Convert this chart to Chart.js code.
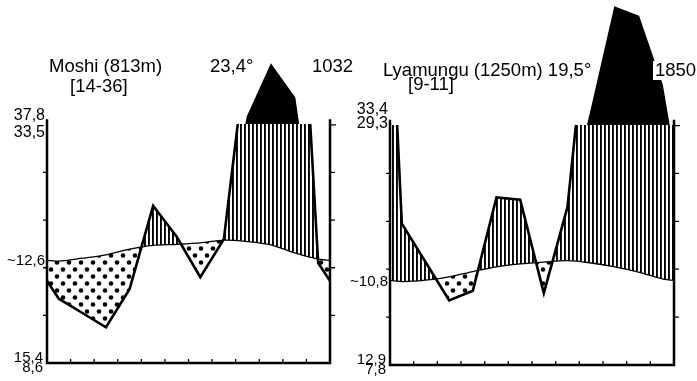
<!DOCTYPE html>
<html>
<head>
<meta charset="utf-8">
<script src="https://cdn.jsdelivr.net/npm/chart.js@4"></script>
<style>
  html, body { margin: 0; padding: 0; background: #fff; }
  #wrap { position: relative; width: 697px; height: 381px; overflow: hidden; }
  #wrap canvas { position: absolute; left: 0; top: 0; }
</style>
</head>
<body>
<div id="wrap">
  <canvas id="moshi" width="697" height="381"></canvas>
  <canvas id="lyamungu" width="697" height="381"></canvas>
</div>
<script>
// year runs July -> June
const months = ["Jul", "Aug", "Sep", "Oct", "Nov", "Dec", "Jan", "Feb", "Mar", "Apr", "May", "Jun"];

// Moshi: monthly mean temperature (°C) and rainfall (mm)
const moshiTemp = [21.4, 22.0, 22.7, 23.9, 24.7, 24.9, 25.2, 25.8, 25.5, 24.8, 23.1, 21.8];
const moshiRain = [27, 21, 15, 31, 66, 53, 36, 52, 134, 352, 214, 42];
const moshiHead = ["Moshi (813m)", "[14-36]", "23,4°", "1032"];
const moshiSide = ["37,8", "33,5", "~12,6", "15,4", "8,6"];

// Lyamungu
const lyaTemp = [17.4, 17.7, 18.4, 19.5, 20.5, 21.1, 21.5, 21.8, 21.3, 20.5, 19.4, 18.0];
const lyaRain = [59, 43, 27, 31, 70, 69, 30, 66, 162, 594, 556, 268];
const lyaHead = ["Lyamungu (1250m) 19,5°", "[9-11]", "", "1850"];
const lyaSide = ["33,4", "29,3", "~10,8", "12,9", "7,8"];

// 10 °C per step on the left = 20 mm per step on the right
const yTicks = [10, 20, 30, 40];

const FONT = "'Liberation Sans', Arial, sans-serif";

// rain on the temperature scale (20 mm = 10 °C)
const wet = mm => mm / 2;
// above 100 mm the scale is reduced to 1/10
const wetTop = mm => (mm <= 100 ? mm / 2 : 50 + (mm - 100) / 20);

// points at mid-month, with the neighbouring months repeated at both ends
function cyclic(vals, f) {
  const pts = vals.map((v, i) => ({ x: i + 0.5, y: f(v) }));
  pts.unshift({ x: -0.5, y: f(vals[vals.length - 1]) });
  pts.push({ x: 12.5, y: f(vals[0]) });
  return pts;
}

function stripes(ctx) {
  const c = document.createElement("canvas");
  c.width = 4; c.height = 4;
  const g = c.getContext("2d");
  g.fillStyle = "#000";
  g.fillRect(0, 0, 1.9, 4);
  return ctx.createPattern(c, "repeat");
}

function dots(ctx) {
  const c = document.createElement("canvas");
  c.width = 12; c.height = 14;
  const g = c.getContext("2d");
  g.fillStyle = "#000";
  [[3, 3.5], [9, 10.5]].forEach(([x, y]) => {
    g.beginPath();
    g.arc(x, y, 2.3, 0, Math.PI * 2);
    g.fill();
  });
  return ctx.createPattern(c, "repeat");
}

// keeps the humid hatch under the 100 mm line and the black part above it
const bandClip = {
  id: "bandClip",
  beforeDatasetDraw(chart, args) {
    const band = chart.data.datasets[args.index].band;
    if (!band) return;
    const { left, right, top, bottom } = chart.chartArea;
    const y50 = Math.floor(chart.scales.y.getPixelForValue(50));
    const ctx = chart.ctx;
    ctx.save();
    ctx.beginPath();
    if (band === "low") ctx.rect(left, y50, right - left, bottom - y50);
    else ctx.rect(left, top, right - left, y50 - top);
    ctx.clip();
  },
  afterDatasetDraw(chart, args) {
    if (chart.data.datasets[args.index].band) chart.ctx.restore();
  }
};

// the clip has to be in place before the filler paints
if (Chart.Filler) {
  Chart.unregister(Chart.Filler);
  Chart.register(bandClip, Chart.Filler);
} else {
  Chart.register(bandClip);
}

function framePlugin(p) {
  return {
    id: "frame",
    afterDatasetsDraw(chart) {
      const { ctx } = chart;
      const x = chart.scales.x, y = chart.scales.y;
      const x0 = x.getPixelForValue(0), x1 = x.getPixelForValue(12);
      const yb = y.getPixelForValue(0), yt = y.getPixelForValue(51.2);
      ctx.save();
      ctx.strokeStyle = "#000";
      ctx.lineWidth = 2.5;
      ctx.beginPath();
      ctx.moveTo(x0, yt);
      ctx.lineTo(x0, yb);
      ctx.lineTo(x1, yb);
      ctx.lineTo(x1, yt);
      ctx.stroke();

      ctx.lineWidth = 1.3;
      ctx.beginPath();
      yTicks.forEach(v => {
        const py = y.getPixelForValue(v);
        ctx.moveTo(x0 - 4, py); ctx.lineTo(x0, py);
        ctx.moveTo(x1, py); ctx.lineTo(x1 + 5, py);
      });
      const p50 = y.getPixelForValue(50);
      ctx.moveTo(x1, p50); ctx.lineTo(x1 + 6, p50);
      for (let i = 1; i < months.length; i++) {
        const px = x.getPixelForValue(i);
        ctx.moveTo(px, yb); ctx.lineTo(px, yb - 4);
      }
      ctx.stroke();

      // extremes and daily range beside the temperature axis
      ctx.fillStyle = "#000";
      ctx.textAlign = "right";
      ctx.textBaseline = "alphabetic";
      ctx.font = "16px " + FONT;
      ctx.fillText(p.side[0], x0 - p.sideDx, p50 + p.topDy[0]);
      ctx.fillText(p.side[1], x0 - p.sideDx, p50 + p.topDy[1]);
      ctx.font = "15px " + FONT;
      ctx.textBaseline = "middle";
      ctx.fillText(p.side[2], x0 - p.sideDx, y.getPixelForValue(p.temp[0]));
      ctx.textBaseline = "alphabetic";
      ctx.fillText(p.side[3], x0 - p.sideDx - 2, yb - 1);
      ctx.fillText(p.side[4], x0 - p.sideDx - 2, yb + 9);

      // station heading on white labels (all labels first, then the text)
      ctx.textAlign = "left";
      ctx.font = "18.5px " + FONT;
      ctx.fillStyle = "#fff";
      p.head.forEach((t, i) => {
        if (!t) return;
        const [hx, hy] = p.headAt[i];
        ctx.fillRect(hx - 2, hy - 15, ctx.measureText(t).width + 4, 19);
      });
      ctx.fillStyle = "#000";
      p.head.forEach((t, i) => {
        if (t) ctx.fillText(t, p.headAt[i][0], p.headAt[i][1]);
      });
      ctx.restore();
    }
  };
}

const panels = [
  {
    id: "moshi", temp: moshiTemp, rain: moshiRain, head: moshiHead, side: moshiSide,
    pad: { left: 47, right: 367, top: 1, bottom: 18 },
    headAt: [[49, 72], [70, 92], [210, 72], [312, 72]],
    topDy: [-5, 12], sideDx: 2
  },
  {
    id: "lyamungu", temp: lyaTemp, rain: lyaRain, head: lyaHead, side: lyaSide,
    pad: { left: 390, right: 23, top: 1, bottom: 16 },
    headAt: [[383, 76], [408, 90], [0, 0], [655, 76]],
    topDy: [-12, 2], sideDx: 2
  }
];

panels.forEach(p => {
  const canvas = document.getElementById(p.id);
  const ctx = canvas.getContext("2d");
  new Chart(canvas, {
    type: "line",
    data: {
      datasets: [
        {
          label: "temperature",
          data: cyclic(p.temp, v => v),
          borderColor: "#000",
          borderWidth: 1.3,
          tension: 0.3,
          pointRadius: 0,
          fill: false
        },
        {
          label: "rainfall",
          band: "low",
          data: cyclic(p.rain, wet),
          borderColor: "#000",
          borderWidth: 2.6,
          tension: 0,
          pointRadius: 0,
          fill: { target: 0, above: stripes(ctx), below: dots(ctx) }
        },
        {
          label: "rainfall > 100 mm",
          band: "high",
          data: cyclic(p.rain, wetTop),
          borderColor: "#000",
          borderWidth: 1.5,
          tension: 0,
          pointRadius: 0,
          fill: { value: 50, above: "#000", below: "rgba(0,0,0,0)" }
        }
      ]
    },
    options: {
      responsive: false,
      animation: false,
      layout: { padding: p.pad },
      scales: {
        x: { type: "linear", min: 0, max: 12, display: false },
        y: { type: "linear", min: 0, max: 76, display: false }
      },
      plugins: {
        legend: { display: false },
        tooltip: { enabled: false },
        title: { display: false }
      }
    },
    plugins: [framePlugin(p)]
  });
});
</script>
</body>
</html>
